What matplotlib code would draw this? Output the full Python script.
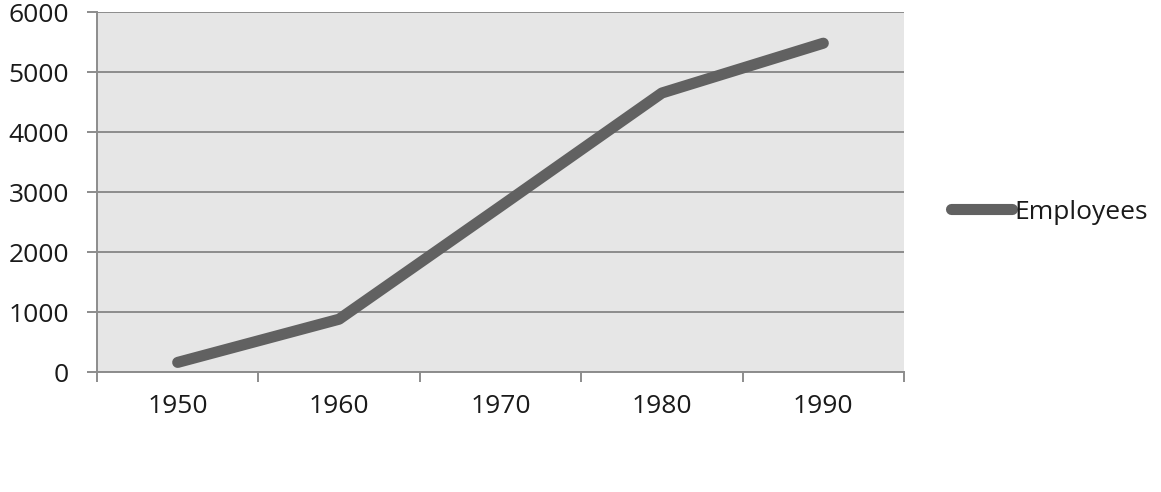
import numpy as np
import matplotlib
matplotlib.use("Agg")
import matplotlib.pyplot as plt

# data
years = ['1950', '1960', '1970', '1980', '1990']
employees = [160, 880, 2760, 4650, 5480]
y_ticks = [0, 1000, 2000, 3000, 4000, 5000, 6000]

plt.rcParams['font.family'] = ['Open Sans', 'DejaVu Sans']

fig = plt.figure(figsize=(11.61, 4.92), dpi=100)
ax = fig.add_axes([97 / 1161, 1 - 372 / 492, 807 / 1161, 360 / 492])

ax.set_facecolor('#e6e6e6')
x = np.arange(len(years))
ax.plot(x, employees, color='#616161', linewidth=8, solid_capstyle='round',
        label='Employees', zorder=3)

ax.set_xlim(-0.5, len(years) - 0.5)
ax.set_ylim(0, 6000)
ax.set_yticks(y_ticks)
ax.set_yticklabels([str(v) for v in y_ticks], fontsize=19, color='#1a1a1a')
ax.yaxis.grid(True, color='#8c8c8c', linewidth=1.4)
ax.set_axisbelow(True)

# category boundary ticks + centred labels
ax.set_xticks(np.arange(-0.5, len(years), 1.0))
ax.set_xticklabels([])
ax.set_xticks(x, minor=True)
ax.set_xticklabels(years, minor=True, fontsize=19, color='#1a1a1a')
ax.tick_params(axis='x', which='major', length=7, width=1.4, color='#8c8c8c')
ax.tick_params(axis='x', which='minor', length=0, pad=16)
ax.tick_params(axis='y', length=7, width=1.4, color='#8c8c8c', pad=13)

for side in ['top', 'right']:
    ax.spines[side].set_visible(False)
for side in ['left', 'bottom']:
    ax.spines[side].set_color('#8c8c8c')
    ax.spines[side].set_linewidth(1.4)

leg = ax.legend(loc='center left', bbox_to_anchor=(1.058, 0.444), frameon=False,
                fontsize=19, handlelength=2.3, handletextpad=0.12,
                borderpad=0, borderaxespad=0)
for t in leg.get_texts():
    t.set_color('#1a1a1a')

fig.savefig('out.png', dpi=100, facecolor='white')
